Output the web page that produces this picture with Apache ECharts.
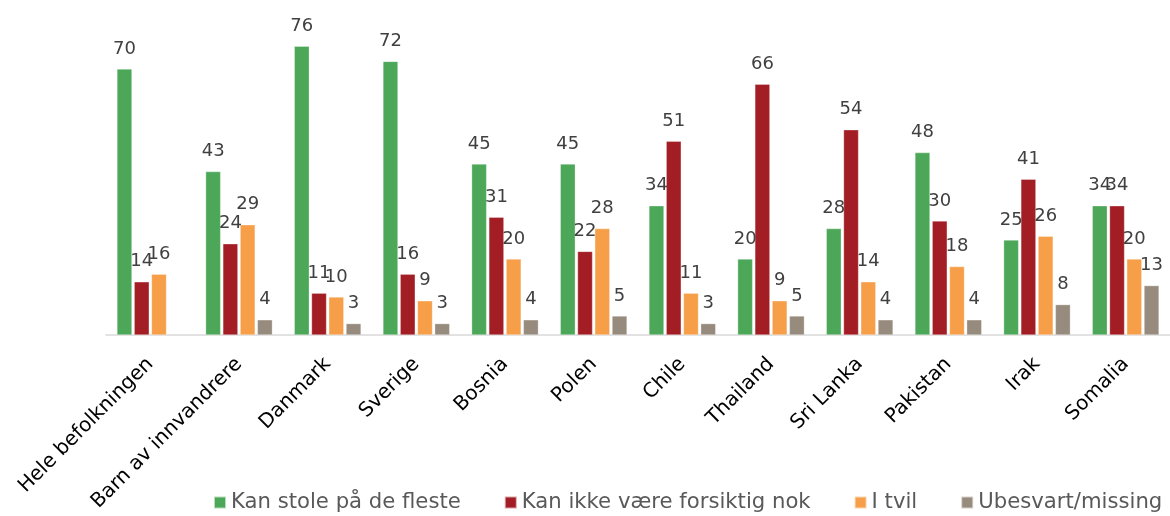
<!DOCTYPE html>
<html>
<head>
<meta charset="utf-8">
<script src="https://cdn.jsdelivr.net/npm/echarts@6/dist/echarts.min.js"></script>
<style>
  html, body { margin: 0; padding: 0; background: #fff; }
  #chart { width: 1170px; height: 516px; }
</style>
</head>
<body>
<div id="chart"></div>
<script>
// Trust survey: share (%) per group answering each option
const categories = ['Hele befolkningen', 'Barn av innvandrere', 'Danmark', 'Sverige', 'Bosnia', 'Polen',
                    'Chile', 'Thailand', 'Sri Lanka', 'Pakistan', 'Irak', 'Somalia'];
const seriesNames = ['Kan stole på de fleste', 'Kan ikke være forsiktig nok', 'I tvil', 'Ubesvart/missing'];
const kanStole   = [70, 43, 76, 72, 45, 45, 34, 20, 28, 48, 25, 34];
const kanIkke    = [14, 24, 11, 16, 31, 22, 51, 66, 54, 30, 41, 34];
const iTvil      = [16, 29, 10, 9, 20, 28, 11, 9, 14, 18, 26, 20];
const ubesvart   = [null, 4, 3, 3, 4, 5, 3, 5, 4, 4, 8, 13];

const colors = ['#4CA758', '#A31D24', '#F69E48', '#978B7E'];
const valueSets = [kanStole, kanIkke, iTvil, ubesvart];
const fontFamily = '"DejaVu Sans", Verdana, sans-serif';

const chart = echarts.init(document.getElementById('chart'));
chart.setOption({
  animation: false,
  color: colors,
  grid: { left: 106, right: 0, top: 31, bottom: 181, containLabel: false, outerBoundsMode: 'none' },
  legend: {
    left: 213,
    top: 492,
    width: 957,
    padding: 0,
    icon: 'rect',
    itemWidth: 12,
    itemHeight: 12,
    itemGap: 43,
    textStyle: { color: '#595959', fontSize: 21.2, fontFamily: fontFamily },
    data: seriesNames
  },
  xAxis: {
    type: 'category',
    data: categories,
    axisLine: { lineStyle: { color: '#D9D9D9', width: 1.5 } },
    axisTick: { show: false },
    axisLabel: { rotate: 45, margin: 26, color: '#000', fontSize: 20, fontFamily: fontFamily, interval: 0 }
  },
  yAxis: {
    type: 'value',
    min: 0,
    max: 80,
    show: false,
    splitLine: { show: false }
  },
  series: seriesNames.map((name, i) => ({
    name: name,
    type: 'bar',
    data: valueSets[i],
    barWidth: 15,
    barGap: '15%',
    itemStyle: { color: colors[i], borderColor: 'rgba(255,255,255,0.6)', borderWidth: 0.5 },
    label: {
      show: true,
      position: 'top',
      distance: 11,
      color: '#404040',
      fontSize: 18,
      fontFamily: fontFamily
    }
  }))
});
</script>
</body>
</html>
